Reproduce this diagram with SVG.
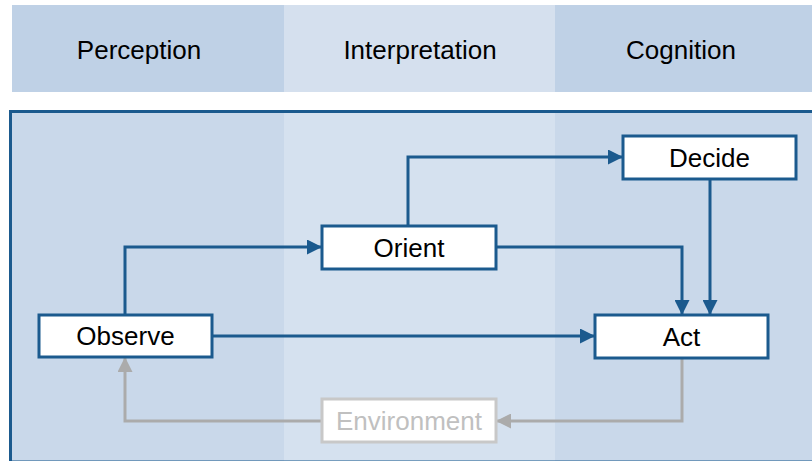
<svg xmlns="http://www.w3.org/2000/svg" width="812" height="461" viewBox="0 0 812 461">
  <defs>
    <style>
      .lbl { font-family: "Liberation Sans", Arial, sans-serif; font-size: 26px; text-anchor: middle; dominant-baseline: central; fill: #000; }
      .box { fill: #fff; stroke: #1b5a8e; stroke-width: 3; }
      .env { fill: #fff; stroke: #c8c8c8; stroke-width: 3; }
      .flow { fill: none; stroke: #1b5a8e; stroke-width: 3; }
      .back { fill: none; stroke: #ababab; stroke-width: 3; }
    </style>
    <marker id="arrowBlue" viewBox="0 0 10 10" refX="10" refY="5" markerWidth="5" markerHeight="5" markerUnits="strokeWidth" orient="auto">
      <path d="M0,0 L10,5 L0,10 Z" fill="#1b5a8e"/>
    </marker>
    <marker id="arrowGray" viewBox="0 0 10 10" refX="10" refY="5" markerWidth="5" markerHeight="5" markerUnits="strokeWidth" orient="auto">
      <path d="M0,0 L10,5 L0,10 Z" fill="#ababab"/>
    </marker>
  </defs>

  <rect width="812" height="461" fill="#ffffff"/>

  <!-- column headers -->
  <g id="headers">
    <rect x="12" y="5" width="272" height="87" fill="#bfd1e6"/>
    <rect x="284" y="5" width="271" height="87" fill="#d5e0ee"/>
    <rect x="555" y="5" width="257" height="87" fill="#bfd1e6"/>
    <text class="lbl" x="139" y="50">Perception</text>
    <text class="lbl" x="420" y="50">Interpretation</text>
    <text class="lbl" x="681" y="50">Cognition</text>
  </g>

  <!-- main panel with column shading -->
  <g id="panel">
    <rect x="10.5" y="111.5" width="810" height="350" fill="#c9d8ea"/>
    <rect x="284" y="113" width="271" height="348" fill="#d5e1ef"/>
    <rect x="10.5" y="111.5" width="810" height="350.5" fill="none" stroke="#1b5a8e" stroke-width="3"/>
  </g>

  <!-- connectors -->
  <g id="connectors">
    <path class="flow" d="M125,315 V247 H322" marker-end="url(#arrowBlue)"/>
    <path class="flow" d="M212,336 H595" marker-end="url(#arrowBlue)"/>
    <path class="flow" d="M408,226 V157 H623" marker-end="url(#arrowBlue)"/>
    <path class="flow" d="M496,247 H682 V315" marker-end="url(#arrowBlue)"/>
    <path class="flow" d="M710,179 V315" marker-end="url(#arrowBlue)"/>
    <path class="back" d="M682,358 V421 H496" marker-end="url(#arrowGray)"/>
    <path class="back" d="M322,421 H125 V357" marker-end="url(#arrowGray)"/>
  </g>

  <g id="observe">
    <rect class="box" x="39" y="315" width="173" height="42"/>
    <text class="lbl" x="125.5" y="336">Observe</text>
  </g>
  <g id="orient">
    <rect class="box" x="322" y="226" width="174" height="43"/>
    <text class="lbl" x="409" y="247.5">Orient</text>
  </g>
  <g id="decide">
    <rect class="box" x="623" y="136" width="173" height="43"/>
    <text class="lbl" x="709.5" y="157.5">Decide</text>
  </g>
  <g id="act">
    <rect class="box" x="595" y="315" width="173" height="43"/>
    <text class="lbl" x="681.5" y="336.5">Act</text>
  </g>
  <g id="environment">
    <rect class="env" x="322" y="399" width="174" height="43"/>
    <text class="lbl" x="409" y="420.5" style="fill:#c0c0c0">Environment</text>
  </g>
</svg>
